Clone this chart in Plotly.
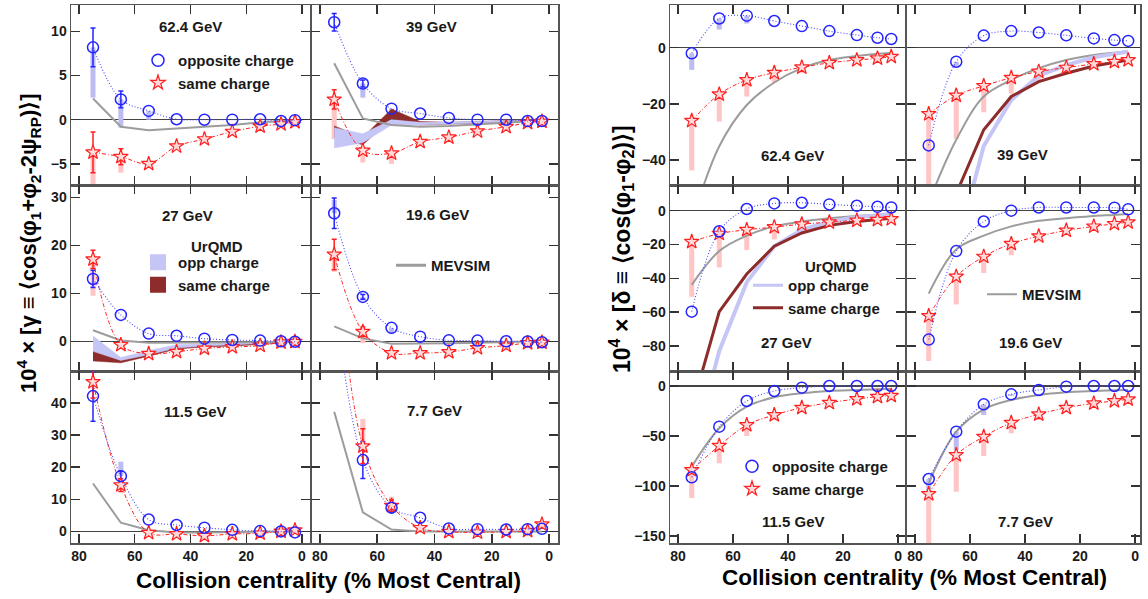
import plotly.graph_objects as go

W, H = 1148, 599
FONT = "Liberation Sans, Arial, Helvetica, sans-serif"
N = None

# ---------------- common ----------------
cent = [75, 65, 55, 45, 35, 25, 15, 7.5, 2.5]
x_ticks = [80, 60, 40, 20, 0]

# ---------------- gamma (left block) ----------------
# 62.4 GeV
g62_opp = [8.2, 2.3, 1.0, 0.05, 0.0, 0.0, 0.05, -0.15, -0.05]
g62_opp_err = [2.2, 0.95, 0, 0, 0, 0, 0, 0, 0]
g62_opp_sys = [2.5, -0.9, 0.0, N, N, N, N, N, N]
g62_same = [-3.7, -4.2, -5.0, -3.0, -2.2, -1.35, -0.75, -0.5, -0.25]
g62_same_err = [2.3, 0.9, 0, 0, 0, 0, 0, 0, 0]
g62_same_sys = [-7.6, -6.0, -5.4, N, N, N, N, N, N]
g62_mev = [2.4, -0.8, -1.2, -1.0, -0.8, -0.6, -0.3, -0.2, -0.1]

# 39 GeV
g39_opp = [11.05, 4.1, 1.25, 0.7, 0.2, 0.0, 0.0, -0.15, -0.15]
g39_opp_err = [1.0, 0.4, 0, 0, 0, 0, 0, 0, 0]
g39_opp_sys = [N, 2.5, 0.5, N, N, N, N, N, N]
g39_same = [2.3, -3.5, -3.8, -2.5, -2.0, -1.3, -0.8, -0.35, -0.2]
g39_same_err = [1.1, 0.3, 0, 0, 0, 0, 0, 0, 0]
g39_same_sys = [-2.2, -4.85, -5.0, N, N, N, N, N, N]
g39_mev = [6.4, 0.15, -0.6, -0.8, -0.7, -0.5, -0.3, -0.2, -0.1]
g39_urq_opp_lo = [-3.2, -2.6, -0.6, -0.6, -0.5, -0.4, -0.3, -0.2, -0.1]
g39_urq_opp_hi = [-0.9, -1.6, 0.0, -0.3, -0.25, -0.2, -0.1, -0.05, 0.0]
g39_urq_same_lo = [-2.0, -2.85, 0.1, -0.6, -0.5, -0.4, -0.3, -0.2, -0.1]
g39_urq_same_hi = [-0.7, -2.0, 1.2, -0.2, -0.3, -0.2, -0.1, -0.05, 0.0]

# 27 GeV
g27_opp = [13.0, 5.5, 1.6, 1.15, 0.55, 0.27, 0.15, 0.0, -0.1]
g27_opp_err = [1.8, 0, 0, 0, 0, 0, 0, 0, 0]
g27_opp_sys = [N, N, N, N, N, N, N, N, N]
g27_same = [17.1, -0.75, -2.6, -2.2, -1.5, -1.2, -0.9, -0.2, -0.1]
g27_same_err = [1.9, 0, 0, 0, 0, 0, 0, 0, 0]
g27_same_sys = [9.5, N, N, N, N, N, N, N, N]
g27_mev = [2.3, 0.15, -0.3, -0.3, -0.3, -0.25, -0.2, -0.1, 0.0]
g27_urq_opp_lo = [-2.1, -4.0, -2.8, -1.4, -1.0, -0.7, -0.5, -0.3, -0.2]
g27_urq_opp_hi = [1.1, -3.4, -1.9, -0.75, -0.5, -0.4, -0.3, -0.15, -0.1]
g27_urq_same_lo = [-4.1, -4.5, -3.1, -1.6, -1.2, -1.0, -0.7, -0.4, -0.2]
g27_urq_same_hi = [-1.8, -3.9, -2.5, -1.1, -0.9, -0.7, -0.5, -0.3, -0.1]

# 19.6 GeV
g19_opp = [26.7, 9.25, 2.8, 0.95, 0.2, 0.15, 0.0, -0.05, -0.2]
g19_opp_err = [3.2, 0.5, 0, 0, 0, 0, 0, 0, 0]
g19_opp_sys = [29.5, 8.5, 1.5, N, N, N, N, N, N]
g19_same = [18.1, 2.0, -2.45, -2.45, -2.25, -1.4, -0.9, -0.35, -0.25]
g19_same_err = [3.2, 1.0, 0, 0, 0, 0, 0, 0, 0]
g19_same_sys = [14.5, -0.4, N, N, N, N, N, N, N]
g19_mev = [3.1, 0.6, -0.5, -0.5, -0.4, -0.3, -0.2, -0.1, 0.0]

# 11.5 GeV
g11_opp = [42.1, 17.2, 3.7, 2.0, 1.15, 0.5, 0.1, 0.0, -0.3]
g11_opp_err = [7.8, 1.5, 0, 0, 0, 0, 0, 0, 0]
g11_opp_sys = [N, 21.7, N, N, N, N, N, N, N]
g11_same = [46.5, 14.4, -0.4, -0.8, -1.35, -0.8, -0.6, 0.0, 0.4]
g11_same_err = [5.0, 2.0, 0, 0, 0, 0, 0, 0, 1.0]
g11_same_sys = [N, N, N, N, N, N, N, N, N]
g11_mev = [14.9, 2.7, 0.4, -0.3, -0.3, -0.2, -0.1, -0.1, 0.0]

# 7.7 GeV
g7_opp = [75.0, 22.2, 7.4, 4.25, 0.9, 0.7, 0.6, 0.7, 0.8]
g7_opp_err = [0, 5.7, 1.5, 0, 0, 0, 0, 0, 0]
g7_opp_sys = [N, N, N, N, N, N, N, N, N]
g7_same = [95.0, 26.5, 8.0, 1.1, -0.1, -0.3, -0.1, 0.2, 2.2]
g7_same_err = [0, 5.4, 1.8, 0, 0, 0, 0, 0, 0]
g7_same_sys = [N, 35.0, 10.8, N, N, N, N, N, N]
g7_mev = [37.2, 5.9, 0.6, 0.0, 0.0, 0.0, 0.0, 0.0, 0.0]

# ---------------- delta (right block) ----------------
d62_opp = [-2.0, 10.4, 11.4, 9.5, 7.7, 5.9, 4.5, 3.55, 3.1]
d62_opp_sys = [-7.9, 6.5, 8.6, N, N, N, N, N, N]
d62_same = [-26.0, -16.6, -11.5, -8.9, -7.0, -5.4, -4.4, -3.8, -3.2]
d62_same_sys = [-43.7, -26.3, -17.4, -12.4, -9.0, N, N, N, N]
d62_mev = [-62.0, -35.1, -20.4, -12.4, -7.3, -4.4, -3.0, -2.2, -1.9]

d39_opp = [-34.8, -5.0, 4.3, 5.9, 5.4, 4.4, 3.3, 2.7, 2.4]
d39_opp_sys = [N, -6.5, N, N, N, N, N, N, N]
d39_same = [-23.6, -17.0, -13.6, -10.7, -8.5, -7.1, -5.8, -5.0, -4.4]
d39_same_sys = [-55.0, -32.5, -23.0, -16.4, -12.0, -9.3, N, N, N]
d39_mev = [-55.0, -32.8, -17.4, -11.5, -7.3, -4.4, -2.6, -1.8, -1.4]
d39_urq_opp = [-120.0, -72.0, -35.0, -18.6, -10.0, -6.2, -3.4, -2.2, -1.4]
d39_urq_same = [-95.0, -52.0, -29.2, -17.4, -12.1, -9.1, -6.5, -5.2, -4.4]

d27_opp = [-59.8, -12.2, 1.0, 4.3, 4.7, 3.7, 2.9, 2.3, 1.9]
d27_opp_sys = [N, N, N, N, N, N, N, N, N]
d27_same = [-18.4, -13.6, -11.3, -9.7, -8.0, -6.8, -5.8, -5.4, -4.9]
d27_same_sys = [-51.0, -33.6, -23.3, -17.0, N, N, N, N, N]
d27_mev = [-43.9, -23.9, -14.8, -9.3, -6.4, -4.5, -3.1, -2.5, -1.9]
d27_urq_opp = [-145.0, -83.0, -42.3, -21.0, -11.3, -6.4, -3.9, -2.9, -1.9]
d27_urq_same = [-117.0, -59.8, -37.5, -21.0, -13.2, -8.7, -6.4, -5.4, -4.5]

d19_opp = [-76.3, -23.9, -6.4, 0.0, 1.9, 1.9, 1.9, 1.75, 0.8]
d19_opp_sys = [N, N, N, N, N, N, N, N, N]
d19_same = [-62.3, -39.0, -27.2, -19.6, -15.1, -11.7, -9.3, -7.8, -6.8]
d19_same_sys = [-89.0, -55.5, -36.9, -26.4, -18.3, N, N, N, N]
d19_mev = [-49.1, -22.9, -14.8, -9.3, -6.0, -4.5, -3.1, -2.5, -1.9]

d11_opp = [-91.3, -40.7, -15.0, -5.0, -1.7, 0.0, 0.0, 0.0, 0.0]
d11_opp_sys = [N, N, N, N, N, N, N, N, N]
d11_same = [-84.0, -59.7, -39.0, -29.0, -21.7, -16.7, -13.0, -10.7, -9.7]
d11_same_sys = [-112.0, -77.3, -50.0, -34.0, N, N, N, N, N]
d11_mev = [-80.7, -42.3, -20.7, -11.3, -7.3, -5.0, -4.0, -3.3, -3.0]

d7_opp = [-93.0, -45.7, -18.3, -8.3, -4.0, -0.7, 0.0, 0.0, 0.0]
d7_opp_sys = [-105.0, -64.0, -29.0, -10.0, N, N, N, N, N]
d7_same = [-108.0, -69.0, -50.7, -36.7, -28.3, -21.7, -17.3, -15.0, -13.3]
d7_same_sys = [-165.0, -105.7, -70.0, -47.3, -34.0, -24.0, N, N, N]
d7_mev = [-97.3, -45.7, -23.3, -14.0, -9.0, -6.3, -5.0, -4.3, -4.0]

# ---------------- styles ----------------
C_OPP = "#2424ff"
C_OPP_LINE = "#4a4aff"
C_SAME = "#ff2020"
C_OPP_SYS = "#bcbcf2"
C_SAME_SYS = "#ffc4c4"
C_URQ_OPP = "#c6c6f6"
C_URQ_SAME = "#8e2b2b"
C_MEV = "#9c9c9c"
C_FRAME = "#555555"


def fx(p):
    return p / W


def fy(p):
    return 1 - p / H


# px geometry of panels
LCOL = [(71, 310), (311, 558)]
RCOL = [(670, 905), (907, 1140)]
ROWS = [(5, 185), (185, 371), (371, 543)]
LXR = [[82.9, -2.9], [83.1, -3.1]]
RXR = [[82.9, -2.5], [82.9, -1.8]]
LYR = [[-7.4, 13.0], [-6.2, 32.6], [-3.6, 49.9]]
RYR = [[-48.9, 15.2], [-94.9, 15.2], [-157.0, 15.0]]
LYT = [[-5, 0, 5, 10], [0, 10, 20, 30], [0, 10, 20, 30, 40]]
RYT = [[-40, -20, 0], [-80, -60, -40, -20, 0], [-150, -100, -50, 0]]

panels = [
    dict(label="62.4 GeV", opp=g62_opp, oe=g62_opp_err, os=g62_opp_sys, same=g62_same, se=g62_same_err, ss=g62_same_sys, mev=g62_mev, kind="g"),
    dict(label="39 GeV", opp=g39_opp, oe=g39_opp_err, os=g39_opp_sys, same=g39_same, se=g39_same_err, ss=g39_same_sys, mev=g39_mev, kind="g",
         band=(g39_urq_opp_lo, g39_urq_opp_hi, g39_urq_same_lo, g39_urq_same_hi)),
    dict(label="27 GeV", opp=g27_opp, oe=g27_opp_err, os=g27_opp_sys, same=g27_same, se=g27_same_err, ss=g27_same_sys, mev=g27_mev, kind="g",
         band=(g27_urq_opp_lo, g27_urq_opp_hi, g27_urq_same_lo, g27_urq_same_hi)),
    dict(label="19.6 GeV", opp=g19_opp, oe=g19_opp_err, os=g19_opp_sys, same=g19_same, se=g19_same_err, ss=g19_same_sys, mev=g19_mev, kind="g"),
    dict(label="11.5 GeV", opp=g11_opp, oe=g11_opp_err, os=g11_opp_sys, same=g11_same, se=g11_same_err, ss=g11_same_sys, mev=g11_mev, kind="g"),
    dict(label="7.7 GeV", opp=g7_opp, oe=g7_opp_err, os=g7_opp_sys, same=g7_same, se=g7_same_err, ss=g7_same_sys, mev=g7_mev, kind="g"),
    dict(label="62.4 GeV", opp=d62_opp, os=d62_opp_sys, same=d62_same, ss=d62_same_sys, mev=d62_mev, kind="d"),
    dict(label="39 GeV", opp=d39_opp, os=d39_opp_sys, same=d39_same, ss=d39_same_sys, mev=d39_mev, kind="d", urq=(d39_urq_opp, d39_urq_same)),
    dict(label="27 GeV", opp=d27_opp, os=d27_opp_sys, same=d27_same, ss=d27_same_sys, mev=d27_mev, kind="d", urq=(d27_urq_opp, d27_urq_same)),
    dict(label="19.6 GeV", opp=d19_opp, os=d19_opp_sys, same=d19_same, ss=d19_same_sys, mev=d19_mev, kind="d"),
    dict(label="11.5 GeV", opp=d11_opp, os=d11_opp_sys, same=d11_same, ss=d11_same_sys, mev=d11_mev, kind="d"),
    dict(label="7.7 GeV", opp=d7_opp, os=d7_opp_sys, same=d7_same, ss=d7_same_sys, mev=d7_mev, kind="d"),
]

# label positions (px)
label_pos = [(190, 26), (431, 26), (188, 215), (438, 214), (195, 411), (434, 410),
             (792, 155), (1022, 154), (786, 342), (1030, 342), (793, 521), (1025, 521)]


def bar_xy(vals, ends):
    xs, ys = [], []
    for c, v, e in zip(cent, vals, ends):
        if e is None:
            continue
        xs += [c, c, None]
        ys += [v, e, None]
    return xs, ys


def band_xy(lo, hi):
    return cent + cent[::-1], hi + lo[::-1]


fig = go.Figure()
layout = {}
annotations = []

for i, p in enumerate(panels):
    n = i + 1
    sfx = "" if n == 1 else str(n)
    xa, ya = "x" + sfx, "y" + sfx
    block_right = i >= 6
    j = i % 6
    col, row = j % 2, j // 2
    cx = (RCOL if block_right else LCOL)[col]
    ry = ROWS[row]
    xr = (RXR if block_right else LXR)[col]
    yr = (RYR if block_right else LYR)[row]
    yt = (RYT if block_right else LYT)[row]

    common = dict(showline=True, linecolor=C_FRAME, linewidth=1.5, mirror="allticks",
                  ticks="inside", ticklen=9, tickwidth=1.4, tickcolor="#333",
                  showgrid=False, fixedrange=True,
                  tickfont=dict(family=FONT, size=14, color="#1a1a1a", weight="bold"))
    layout["xaxis" + sfx] = dict(common, domain=[fx(cx[0]), fx(cx[1])], range=xr,
                                 tickvals=x_ticks, zeroline=False,
                                 showticklabels=(row == 2), anchor=ya)
    layout["yaxis" + sfx] = dict(common, domain=[fy(ry[1]), fy(ry[0])], range=yr,
                                 tickvals=yt, zeroline=True, zerolinecolor="#444",
                                 zerolinewidth=1.3, showticklabels=(col == 0), anchor=xa)

    # systematic bars
    bx, by = bar_xy(p["same"], p["ss"])
    if bx:
        fig.add_trace(go.Scatter(x=bx, y=by, mode="lines", line=dict(color=C_SAME_SYS, width=5),
                                 xaxis=xa, yaxis=ya, showlegend=False, hoverinfo="skip"))
    bx, by = bar_xy(p["opp"], p["os"])
    if bx:
        fig.add_trace(go.Scatter(x=bx, y=by, mode="lines", line=dict(color=C_OPP_SYS, width=5),
                                 xaxis=xa, yaxis=ya, showlegend=False, hoverinfo="skip"))

    # UrQMD bands (gamma)
    if "band" in p:
        olo, ohi, slo, shi = p["band"]
        bx, by = band_xy(slo, shi)
        fig.add_trace(go.Scatter(x=bx, y=by, mode="lines", fill="toself", fillcolor=C_URQ_SAME,
                                 line=dict(width=0.5, color=C_URQ_SAME), xaxis=xa, yaxis=ya,
                                 showlegend=False, hoverinfo="skip"))
        bx, by = band_xy(olo, ohi)
        fig.add_trace(go.Scatter(x=bx, y=by, mode="lines", fill="toself", fillcolor=C_URQ_OPP,
                                 line=dict(width=0.5, color=C_URQ_OPP), xaxis=xa, yaxis=ya,
                                 showlegend=False, hoverinfo="skip"))

    # MEVSIM
    fig.add_trace(go.Scatter(x=cent, y=p["mev"], mode="lines",
                             line=dict(color=C_MEV, width=2, shape=("spline" if p["kind"] == "d" else "linear")),
                             xaxis=xa, yaxis=ya, showlegend=False, hoverinfo="skip"))

    # UrQMD lines (delta)
    if "urq" in p:
        uo, us = p["urq"]
        fig.add_trace(go.Scatter(x=cent, y=uo, mode="lines", line=dict(color=C_URQ_OPP, width=4),
                                 xaxis=xa, yaxis=ya, showlegend=False, hoverinfo="skip"))
        fig.add_trace(go.Scatter(x=cent, y=us, mode="lines", line=dict(color=C_URQ_SAME, width=3),
                                 xaxis=xa, yaxis=ya, showlegend=False, hoverinfo="skip"))

    # statistical error bars
    for vals, errs, colr in ((p["opp"], p.get("oe"), C_OPP), (p["same"], p.get("se"), C_SAME)):
        if not errs:
            continue
        ex = [c for c, e in zip(cent, errs) if e]
        ey = [v for v, e in zip(vals, errs) if e]
        ee = [e for e in errs if e]
        if ex:
            fig.add_trace(go.Scatter(x=ex, y=ey, mode="markers", marker=dict(size=1, opacity=0),
                                     error_y=dict(type="data", array=ee, color=colr, thickness=1.5, width=2.5),
                                     xaxis=xa, yaxis=ya, showlegend=False, hoverinfo="skip"))

    # data
    fig.add_trace(go.Scatter(x=cent, y=p["same"], mode="lines+markers",
                             line=dict(color=C_SAME, width=1, dash="4px,2px,1px,2px", shape="spline"),
                             marker=dict(symbol="star", size=11, color="#ffdada", line=dict(color=C_SAME, width=1.2)),
                             xaxis=xa, yaxis=ya, showlegend=False, hoverinfo="skip"))
    fig.add_trace(go.Scatter(x=cent, y=p["opp"], mode="lines+markers",
                             line=dict(color=C_OPP_LINE, width=1.1, dash="1px,2px", shape="spline"),
                             marker=dict(symbol="circle-open", size=11, color=C_OPP, line=dict(width=1.5)),
                             xaxis=xa, yaxis=ya, showlegend=False, hoverinfo="skip"))

    lx, ly = label_pos[i]
    annotations.append(dict(text=p["label"], x=fx(lx), y=fy(ly), xref="paper", yref="paper",
                            showarrow=False, xanchor="center", yanchor="middle",
                            font=dict(family=FONT, size=15, color="#1a1a1a", weight="bold")))

# ---------------- legends (entries only, no data) ----------------
LEGFONT = dict(family=FONT, size=15, color="#1a1a1a", weight="bold")


def leg_trace(name, legend, **kw):
    return go.Scatter(x=[None], y=[None], name=name, legend=legend, showlegend=True, hoverinfo="skip", **kw)


fig.add_trace(leg_trace("opposite charge", "legend", mode="markers",
                        marker=dict(symbol="circle-open", size=12, color=C_OPP, line=dict(width=1.5))))
fig.add_trace(leg_trace("same charge", "legend", mode="markers",
                        marker=dict(symbol="star", size=11, color="#ffdada", line=dict(color=C_SAME, width=1.2))))
fig.add_trace(leg_trace("opp charge", "legend2", mode="markers",
                        marker=dict(symbol="square", size=16, color=C_URQ_OPP)))
fig.add_trace(leg_trace("same charge", "legend2", mode="markers",
                        marker=dict(symbol="square", size=16, color=C_URQ_SAME)))
fig.add_trace(leg_trace("MEVSIM", "legend3", mode="lines", line=dict(color=C_MEV, width=3)))
fig.add_trace(leg_trace("opp charge", "legend4", mode="lines", line=dict(color=C_URQ_OPP, width=3)))
fig.add_trace(leg_trace("same charge", "legend4", mode="lines", line=dict(color=C_URQ_SAME, width=3)))
fig.add_trace(leg_trace("MEVSIM", "legend5", mode="lines", line=dict(color=C_MEV, width=2)))
fig.add_trace(leg_trace("opposite charge", "legend6", mode="markers",
                        marker=dict(symbol="circle-open", size=12, color=C_OPP, line=dict(width=1.5))))
fig.add_trace(leg_trace("same charge", "legend6", mode="markers",
                        marker=dict(symbol="star", size=11, color="#ffdada", line=dict(color=C_SAME, width=1.2))))


def leg(x_text, y_top):
    return dict(x=fx(x_text - 40), y=fy(y_top), xanchor="left", yanchor="top",
                bgcolor="rgba(0,0,0,0)", borderwidth=0, font=LEGFONT, tracegroupgap=0)


layout["legend"] = leg(178, 44)
layout["legend2"] = leg(178, 246)
layout["legend3"] = leg(431, 249)
layout["legend4"] = leg(788, 269)
layout["legend5"] = leg(1022, 278)
layout["legend6"] = leg(772, 450)

# UrQMD headings
for (x, y) in ((217, 246), (831, 266)):
    annotations.append(dict(text="UrQMD", x=fx(x), y=fy(y), xref="paper", yref="paper", showarrow=False,
                            xanchor="center", yanchor="middle",
                            font=dict(family=FONT, size=15, color="#1a1a1a", weight="bold")))

# axis titles
annotations.append(dict(text="Collision centrality (% Most Central)", x=fx(328), y=fy(580), xref="paper",
                        yref="paper", showarrow=False, xanchor="center", yanchor="middle",
                        font=dict(family=FONT, size=22.5, color="#000", weight="bold")))
annotations.append(dict(text="Collision centrality (% Most Central)", x=fx(914), y=fy(577), xref="paper",
                        yref="paper", showarrow=False, xanchor="center", yanchor="middle",
                        font=dict(family=FONT, size=22.5, color="#000", weight="bold")))
annotations.append(dict(text="10<sup>4</sup> × [γ ≡ ⟨cos(φ<sub>1</sub>+φ<sub>2</sub>-2ψ<sub>RP</sub>)⟩]",
                        x=fx(29), y=fy(243), xref="paper", yref="paper", showarrow=False, textangle=-90,
                        xanchor="center", yanchor="middle",
                        font=dict(family=FONT, size=22, color="#000", weight="bold")))
annotations.append(dict(text="10<sup>4</sup> × [δ ≡ ⟨cos(φ<sub>1</sub>-φ<sub>2</sub>)⟩]",
                        x=fx(621), y=fy(249), xref="paper", yref="paper", showarrow=False, textangle=-90,
                        xanchor="center", yanchor="middle",
                        font=dict(family=FONT, size=23, color="#000", weight="bold")))

fig.update_layout(**layout)
fig.update_layout(width=W, height=H, autosize=False, margin=dict(l=0, r=0, t=0, b=0),
                  paper_bgcolor="white", plot_bgcolor="white", annotations=annotations,
                  font=dict(family=FONT))

fig.write_html("out.html", config={"displayModeBar": False, "staticPlot": True},
               post_script="document.body.style.margin='0px';document.body.style.overflow='hidden';")
